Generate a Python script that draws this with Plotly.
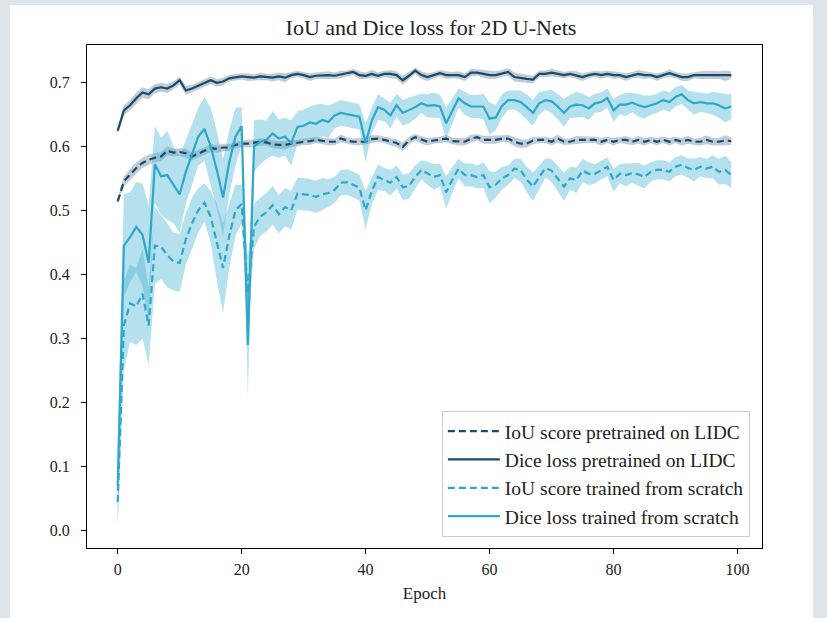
import plotly.graph_objects as go

epochs = list(range(100))

dice_pretrained = [
    0.624, 0.656, 0.664, 0.675, 0.684, 0.681, 0.690, 0.692, 0.690, 0.695,
    0.703, 0.687, 0.690, 0.694, 0.699, 0.703, 0.699, 0.701, 0.706, 0.708,
    0.709, 0.708, 0.707, 0.709, 0.708, 0.707, 0.709, 0.707, 0.711, 0.713,
    0.711, 0.708, 0.710, 0.711, 0.711, 0.710, 0.712, 0.713, 0.716, 0.711,
    0.710, 0.713, 0.710, 0.713, 0.713, 0.711, 0.703, 0.710, 0.718, 0.711,
    0.708, 0.711, 0.714, 0.711, 0.711, 0.711, 0.708, 0.715, 0.715, 0.713,
    0.711, 0.711, 0.714, 0.716, 0.708, 0.706, 0.705, 0.704, 0.713, 0.713,
    0.715, 0.713, 0.711, 0.713, 0.711, 0.708, 0.711, 0.713, 0.711, 0.713,
    0.711, 0.711, 0.708, 0.711, 0.713, 0.711, 0.711, 0.708, 0.711, 0.714,
    0.711, 0.708, 0.708, 0.711, 0.711, 0.711, 0.711, 0.711, 0.710, 0.711,
]
dice_pretrained_std = [
    0.004, 0.008, 0.008, 0.009, 0.008, 0.008, 0.007, 0.007, 0.007, 0.006,
    0.006, 0.007, 0.006, 0.006, 0.006, 0.006, 0.006, 0.006, 0.005, 0.005,
    0.005, 0.006, 0.005, 0.006, 0.005, 0.006, 0.006, 0.007, 0.005, 0.005,
    0.005, 0.006, 0.005, 0.005, 0.006, 0.005, 0.006, 0.005, 0.005, 0.006,
    0.005, 0.006, 0.005, 0.005, 0.006, 0.006, 0.007, 0.006, 0.005, 0.006,
    0.006, 0.005, 0.005, 0.006, 0.005, 0.006, 0.006, 0.006, 0.005, 0.006,
    0.006, 0.006, 0.005, 0.006, 0.007, 0.007, 0.006, 0.006, 0.005, 0.005,
    0.006, 0.006, 0.005, 0.005, 0.006, 0.006, 0.005, 0.005, 0.006, 0.005,
    0.006, 0.005, 0.006, 0.005, 0.006, 0.006, 0.005, 0.006, 0.005, 0.006,
    0.005, 0.006, 0.006, 0.005, 0.006, 0.007, 0.006, 0.006, 0.008, 0.006,
]

iou_pretrained = [
    0.514, 0.545, 0.556, 0.566, 0.574, 0.579, 0.582, 0.584, 0.593, 0.590,
    0.591, 0.589, 0.584, 0.589, 0.593, 0.597, 0.596, 0.598, 0.598, 0.602,
    0.604, 0.604, 0.605, 0.607, 0.606, 0.603, 0.602, 0.602, 0.604, 0.605,
    0.607, 0.608, 0.610, 0.608, 0.607, 0.607, 0.612, 0.609, 0.607, 0.607,
    0.607, 0.611, 0.612, 0.610, 0.607, 0.605, 0.599, 0.609, 0.614, 0.610,
    0.607, 0.609, 0.610, 0.612, 0.608, 0.607, 0.607, 0.612, 0.614, 0.610,
    0.610, 0.610, 0.612, 0.612, 0.607, 0.604, 0.604, 0.609, 0.610, 0.610,
    0.607, 0.612, 0.607, 0.607, 0.610, 0.610, 0.610, 0.610, 0.607, 0.610,
    0.607, 0.610, 0.610, 0.607, 0.610, 0.607, 0.610, 0.607, 0.610, 0.607,
    0.610, 0.607, 0.610, 0.607, 0.607, 0.610, 0.607, 0.607, 0.609, 0.608,
]
iou_pretrained_std = [
    0.004, 0.008, 0.009, 0.009, 0.008, 0.008, 0.007, 0.007, 0.007, 0.006,
    0.006, 0.007, 0.006, 0.006, 0.006, 0.006, 0.006, 0.006, 0.005, 0.005,
    0.005, 0.006, 0.005, 0.006, 0.005, 0.006, 0.006, 0.007, 0.005, 0.005,
    0.005, 0.006, 0.005, 0.005, 0.006, 0.005, 0.006, 0.005, 0.005, 0.006,
    0.005, 0.006, 0.005, 0.005, 0.006, 0.006, 0.007, 0.006, 0.005, 0.006,
    0.006, 0.005, 0.005, 0.006, 0.005, 0.006, 0.006, 0.006, 0.005, 0.006,
    0.006, 0.006, 0.005, 0.006, 0.007, 0.007, 0.006, 0.006, 0.005, 0.005,
    0.006, 0.006, 0.005, 0.005, 0.006, 0.006, 0.005, 0.005, 0.006, 0.005,
    0.006, 0.005, 0.006, 0.005, 0.006, 0.006, 0.005, 0.006, 0.005, 0.006,
    0.005, 0.006, 0.006, 0.005, 0.006, 0.007, 0.006, 0.006, 0.008, 0.006,
]

dice_scratch = [
    0.070, 0.445, 0.458, 0.474, 0.462, 0.418, 0.572, 0.553, 0.555, 0.540,
    0.525, 0.560, 0.588, 0.615, 0.627, 0.600, 0.563, 0.520, 0.575, 0.615,
    0.631, 0.290, 0.600, 0.607, 0.610, 0.620, 0.612, 0.615, 0.605, 0.630,
    0.632, 0.637, 0.635, 0.641, 0.638, 0.648, 0.652, 0.650, 0.648, 0.646,
    0.605, 0.640, 0.661, 0.657, 0.648, 0.664, 0.652, 0.656, 0.661, 0.667,
    0.663, 0.664, 0.662, 0.636, 0.655, 0.675, 0.667, 0.662, 0.662, 0.662,
    0.643, 0.645, 0.663, 0.672, 0.672, 0.669, 0.661, 0.652, 0.667, 0.672,
    0.670, 0.662, 0.652, 0.662, 0.665, 0.664, 0.659, 0.667, 0.669, 0.675,
    0.656, 0.665, 0.665, 0.668, 0.664, 0.661, 0.664, 0.667, 0.672, 0.669,
    0.677, 0.681, 0.672, 0.667, 0.669, 0.667, 0.667, 0.664, 0.659, 0.662,
]
dice_scratch_std = [
    0.060, 0.080, 0.070, 0.070, 0.080, 0.090, 0.060, 0.060, 0.070, 0.060,
    0.060, 0.050, 0.050, 0.045, 0.050, 0.060, 0.060, 0.060, 0.050, 0.045,
    0.030, 0.080, 0.040, 0.035, 0.030, 0.035, 0.030, 0.030, 0.035, 0.025,
    0.025, 0.025, 0.030, 0.025, 0.025, 0.020, 0.020, 0.020, 0.020, 0.020,
    0.030, 0.020, 0.020, 0.018, 0.020, 0.018, 0.020, 0.020, 0.018, 0.015,
    0.018, 0.020, 0.018, 0.025, 0.020, 0.015, 0.018, 0.018, 0.018, 0.020,
    0.025, 0.020, 0.018, 0.015, 0.015, 0.018, 0.020, 0.020, 0.018, 0.015,
    0.018, 0.020, 0.022, 0.018, 0.020, 0.018, 0.018, 0.015, 0.015, 0.015,
    0.018, 0.015, 0.018, 0.015, 0.018, 0.018, 0.015, 0.015, 0.015, 0.015,
    0.015, 0.015, 0.015, 0.018, 0.015, 0.015, 0.018, 0.020, 0.022, 0.020,
]

iou_scratch = [
    0.045, 0.320, 0.355, 0.350, 0.370, 0.320, 0.445, 0.443, 0.430, 0.420,
    0.418, 0.455, 0.480, 0.500, 0.512, 0.490, 0.450, 0.410, 0.460, 0.500,
    0.510, 0.370, 0.475, 0.490, 0.497, 0.508, 0.494, 0.505, 0.500, 0.526,
    0.525, 0.524, 0.521, 0.525, 0.527, 0.532, 0.543, 0.544, 0.540, 0.535,
    0.500, 0.530, 0.552, 0.548, 0.543, 0.552, 0.536, 0.538, 0.552, 0.563,
    0.558, 0.552, 0.555, 0.528, 0.548, 0.565, 0.555, 0.555, 0.552, 0.555,
    0.536, 0.540, 0.550, 0.555, 0.565, 0.563, 0.548, 0.537, 0.552, 0.566,
    0.562, 0.550, 0.537, 0.550, 0.547, 0.562, 0.557, 0.557, 0.563, 0.568,
    0.547, 0.557, 0.555, 0.558, 0.556, 0.552, 0.560, 0.563, 0.563, 0.560,
    0.568, 0.571, 0.566, 0.563, 0.568, 0.565, 0.568, 0.560, 0.563, 0.555,
]
iou_scratch_std = [
    0.040, 0.070, 0.060, 0.060, 0.070, 0.060, 0.060, 0.050, 0.050, 0.045,
    0.045, 0.040, 0.040, 0.035, 0.030, 0.040, 0.060, 0.070, 0.050, 0.040,
    0.030, 0.060, 0.035, 0.030, 0.030, 0.030, 0.030, 0.030, 0.030, 0.025,
    0.025, 0.025, 0.025, 0.025, 0.022, 0.020, 0.020, 0.020, 0.020, 0.020,
    0.030, 0.020, 0.020, 0.018, 0.020, 0.018, 0.020, 0.020, 0.018, 0.015,
    0.018, 0.020, 0.018, 0.025, 0.020, 0.015, 0.018, 0.018, 0.018, 0.020,
    0.025, 0.020, 0.018, 0.015, 0.015, 0.018, 0.020, 0.022, 0.018, 0.015,
    0.018, 0.020, 0.022, 0.018, 0.020, 0.018, 0.018, 0.015, 0.015, 0.015,
    0.018, 0.015, 0.018, 0.015, 0.018, 0.018, 0.015, 0.015, 0.015, 0.015,
    0.015, 0.015, 0.015, 0.018, 0.015, 0.015, 0.018, 0.020, 0.022, 0.020,
]

series = [
    ("IoU score pretrained on LIDC", iou_pretrained, iou_pretrained_std, "#1b4a6b", "rgba(27,74,107,0.28)", "7px,4px"),
    ("Dice loss pretrained on LIDC", dice_pretrained, dice_pretrained_std, "#1b4a6b", "rgba(27,74,107,0.28)", "solid"),
    ("IoU score trained from scratch", iou_scratch, iou_scratch_std, "#2fa8c8", "rgba(60,175,210,0.38)", "7px,4px"),
    ("Dice loss trained from scratch", dice_scratch, dice_scratch_std, "#2fa8c8", "rgba(60,175,210,0.38)", "solid"),
]

fig = go.Figure()

for name, mean, std, color, band, dash in series:
    upper = [m + s for m, s in zip(mean, std)]
    lower = [m - s for m, s in zip(mean, std)]
    fig.add_trace(go.Scatter(
        x=epochs + epochs[::-1], y=upper + lower[::-1],
        fill="toself", fillcolor=band, line=dict(width=0),
        mode="lines", hoverinfo="skip", showlegend=False,
    ))

for name, mean, std, color, band, dash in series:
    fig.add_trace(go.Scatter(
        x=epochs, y=mean, mode="lines", name=name,
        line=dict(color=color, width=2.2, dash=dash),
    ))

font_family = "Liberation Serif"

fig.update_layout(
    width=827, height=618,
    margin=dict(l=87, r=65, t=45, b=70),
    paper_bgcolor="#dde5ea",
    plot_bgcolor="white",
    font=dict(family=font_family, size=16, color="#222222"),
    title=dict(text="IoU and Dice loss for 2D U-Nets", x=(431 - 87) / 675, xref="paper",
               xanchor="center", y=1 - 27 / 618, yanchor="middle",
               font=dict(family=font_family, size=22, color="#222222")),
    showlegend=True,
    legend=dict(
        x=0.982, y=0.022, xanchor="right", yanchor="bottom",
        bgcolor="rgba(255,255,255,0.85)", bordercolor="#cccccc", borderwidth=1,
        font=dict(family=font_family, size=19.5, color="#222222"),
        tracegroupgap=0, itemwidth=52,
    ),
    shapes=[dict(type="rect", xref="paper", yref="paper",
                 x0=(10 - 87) / 675, x1=(813 - 87) / 675,
                 y0=-0.5, y1=(548 - 5) / 503,
                 fillcolor="white", line=dict(width=0), layer="below")],
)

fig.update_xaxes(
    range=[-4.95, 103.95], tickvals=[0, 20, 40, 60, 80, 100],
    showgrid=False, zeroline=False, showline=True, linecolor="black", linewidth=1,
    mirror=True, ticks="outside", ticklen=5, tickcolor="black",
    ticklabelstandoff=2,
    title=dict(text="Epoch", font=dict(family=font_family, size=17), standoff=9),
)
fig.update_yaxes(
    range=[-0.027, 0.758], tickvals=[0.0, 0.1, 0.2, 0.3, 0.4, 0.5, 0.6, 0.7],
    ticktext=["0.0", "0.1", "0.2", "0.3", "0.4", "0.5", "0.6", "0.7"],
    showgrid=False, zeroline=False, showline=True, linecolor="black", linewidth=1,
    mirror=True, ticks="outside", ticklen=5, tickcolor="black",
    ticklabelstandoff=8,
)

fig.write_html("out.html", config={"displayModeBar": False},
               post_script="document.body.style.margin='0';")
